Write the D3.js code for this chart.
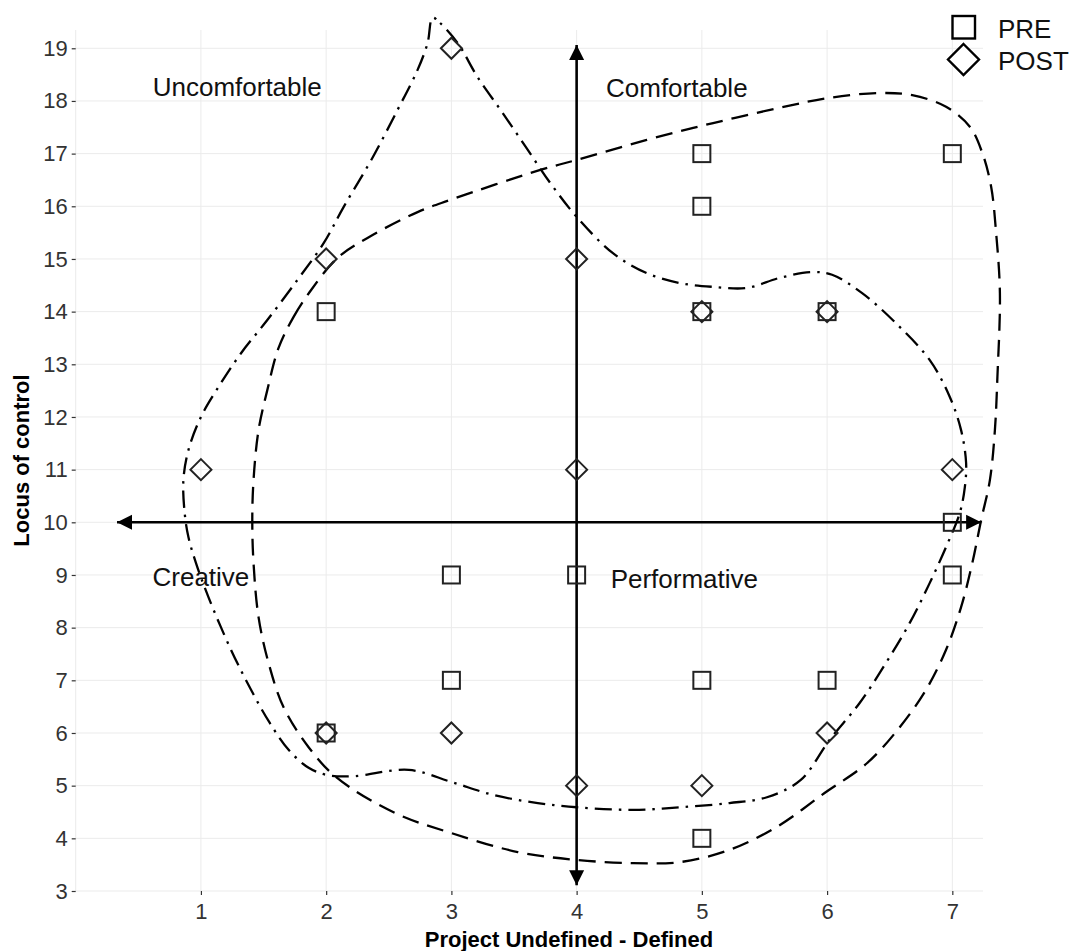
<!DOCTYPE html>
<html><head><meta charset="utf-8">
<script src="https://cdn.jsdelivr.net/npm/d3@7"></script>
<style>body{margin:0;background:#fff}svg{display:block}</style>
</head><body>
<svg id="chart" width="1075" height="951"></svg>
<script>
// ---- data ----
const xTicks = [1, 2, 3, 4, 5, 6, 7];
const yTicks = [3,4,5,6,7,8,9,10,11,12,13,14,15,16,17,18,19];
const preX = [2, 3, 3, 2, 4, 5, 5, 5, 6, 7, 7, 7, 5, 6, 5];
const preY = [14, 9, 7, 6, 9, 17, 16, 14, 14, 17, 10, 9, 7, 7, 4];
const postX = [1, 2, 2, 3, 3, 4, 4, 4, 5, 5, 6, 6, 7];
const postY = [11, 15, 6, 19, 6, 15, 11, 5, 14, 5, 14, 6, 11];
// hand-traced enclosing curves (data units)
const preHullX = [1.62,1.74,1.88,2.09,2.33,2.73,2.99,3.71,4.00,4.56,5.09,5.62,6.02,6.42,6.68,6.95,7.14,7.24,7.31,7.35,7.38,7.36,7.34,7.30,7.23,7.16,7.07,6.95,6.79,6.58,6.32,5.98,5.60,5.22,4.83,4.45,4.00,3.53,3.00,2.55,2.08,1.86,1.66,1.54,1.46,1.42,1.41,1.42,1.46,1.53];
const preHullY = [13.31,13.90,14.41,15.02,15.40,15.89,16.12,16.69,16.88,17.26,17.58,17.87,18.06,18.15,18.11,17.89,17.51,17.01,16.37,15.49,14.35,12.76,11.75,10.80,10.04,9.23,8.39,7.58,6.82,6.11,5.43,4.86,4.22,3.78,3.55,3.53,3.59,3.74,4.10,4.48,5.16,5.73,6.49,7.33,8.20,9.23,10.04,10.80,11.75,12.51];
const postHullX = [2.85,2.91,3.05,3.21,3.41,3.61,3.79,4.00,4.29,4.56,4.83,5.09,5.36,5.62,5.88,6.04,6.28,6.55,6.82,6.98,7.07,7.11,7.10,7.06,6.95,6.82,6.66,6.47,6.26,6.02,5.79,5.52,5.22,4.83,4.45,4.00,3.69,3.34,3.00,2.66,2.22,2.01,1.86,1.70,1.55,1.40,1.24,1.06,0.96,0.90,0.87,0.86,0.90,1.00,1.14,1.32,1.53,1.77,1.98,2.14,2.36,2.57,2.73,2.81];
const postHullY = [19.58,19.48,19.10,18.45,17.77,17.07,16.44,15.80,15.11,14.73,14.54,14.47,14.45,14.64,14.75,14.70,14.35,13.78,13.08,12.38,11.75,11.13,10.67,10.18,9.53,8.85,8.09,7.33,6.57,5.87,5.11,4.78,4.67,4.59,4.54,4.59,4.67,4.82,5.07,5.30,5.18,5.20,5.34,5.68,6.19,6.82,7.58,8.58,9.23,9.72,10.18,10.80,11.37,12.00,12.57,13.21,13.84,14.60,15.30,15.99,16.88,17.83,18.59,19.10];
const hArrowX = [0.33, 7.23], hArrowY = [10, 10];
const vArrowX = [4, 4], vArrowY = [3.11, 19.06];
const quadLabels = ["Uncomfortable", "Comfortable", "Creative", "Performative"];
const quadX = [1.29, 4.80, 1.0, 4.86];
const quadY = [18.27, 18.25, 8.97, 8.92];
const legendLabels = ["PRE", "POST"];
const xTitle = "Project Undefined - Defined";
const yTitle = "Locus of control";

// ---- layout ----
const FONT = "'Liberation Sans', Arial, Helvetica, sans-serif";
const svg = d3.select("#chart");
const pLeft = 75.7, pRight = 983, pTop = 30, pBottom = 891;
const x = d3.scaleLinear().domain([0, 7.245]).range([pLeft, pRight]);
const y = d3.scaleLinear().domain([3, 19.347]).range([pBottom, pTop]);

// grid
const grid = svg.append("g").attr("stroke", "#ebebeb").attr("stroke-width", 1);
grid.selectAll("line.h").data(yTicks).join("line").attr("class", "h")
  .attr("x1", pLeft).attr("x2", pRight).attr("y1", d => y(d)).attr("y2", d => y(d));
grid.selectAll("line.v").data([0].concat(xTicks)).join("line").attr("class", "v")
  .attr("y1", pTop).attr("y2", pBottom).attr("x1", d => x(d)).attr("x2", d => x(d));

// axes
const xAxis = svg.append("g").attr("transform", `translate(0,${pBottom})`)
  .call(d3.axisBottom(x).tickValues(xTicks).tickFormat(d3.format("d")).tickSize(4).tickPadding(8));
const yAxis = svg.append("g").attr("transform", `translate(${pLeft},0)`)
  .call(d3.axisLeft(y).tickValues(yTicks).tickFormat(d3.format("d")).tickSize(4).tickPadding(4));
[xAxis, yAxis].forEach(a => {
  a.select(".domain").remove();
  a.selectAll(".tick line").attr("stroke", "#333").attr("stroke-width", 1.2);
  a.selectAll(".tick text").attr("fill", "#333").style("font-family", FONT).style("font-size", "22px");
});

// enclosing curves
const line = d3.line().x(d => x(d[0])).y(d => y(d[1])).curve(d3.curveCatmullRomClosed.alpha(0.5));
svg.append("path").datum(preHullX.map((v, i) => [v, preHullY[i]]))
  .attr("d", line).attr("fill", "none").attr("stroke", "#000").attr("stroke-width", 2.3)
  .attr("stroke-dasharray", "17,9");
svg.append("path").datum(postHullX.map((v, i) => [v, postHullY[i]]))
  .attr("d", line).attr("fill", "none").attr("stroke", "#000").attr("stroke-width", 2.3)
  .attr("stroke-dasharray", "2.5,7,17,7");

// arrows
function arrow(x0, y0, x1, y1) {
  const px0 = x(x0), py0 = y(y0), px1 = x(x1), py1 = y(y1);
  const g = svg.append("g");
  const L = 15, W = 7.5;
  [[px0, py0, px1, py1], [px1, py1, px0, py0]].forEach(([ax, ay, bx, by]) => {
    const dx = ax - bx, dy = ay - by, len = Math.hypot(dx, dy);
    const ux = dx / len, uy = dy / len;
    const baseX = ax - ux * L, baseY = ay - uy * L;
    g.append("path").attr("d", `M${ax},${ay}L${baseX - uy * W},${baseY + ux * W}L${baseX + uy * W},${baseY - ux * W}Z`)
      .attr("fill", "#000");
  });
  g.append("line").attr("x1", px0).attr("y1", py0).attr("x2", px1).attr("y2", py1)
    .attr("stroke", "#000").attr("stroke-width", 2.6);
}
arrow(hArrowX[0], hArrowY[0], hArrowX[1], hArrowY[1]);
arrow(vArrowX[0], vArrowY[0], vArrowX[1], vArrowY[1]);

// points
const sq = 17, dm = 10.5;
svg.append("g").selectAll("rect").data(preX.map((v, i) => [v, preY[i]])).join("rect")
  .attr("x", d => x(d[0]) - sq / 2).attr("y", d => y(d[1]) - sq / 2)
  .attr("width", sq).attr("height", sq)
  .attr("fill", "none").attr("stroke", "#222").attr("stroke-width", 2);
const diamond = (cx, cy, r) => `M${cx},${cy - r}L${cx + r},${cy}L${cx},${cy + r}L${cx - r},${cy}Z`;
svg.append("g").selectAll("path").data(postX.map((v, i) => [v, postY[i]])).join("path")
  .attr("d", d => diamond(x(d[0]), y(d[1]), dm))
  .attr("fill", "none").attr("stroke", "#222").attr("stroke-width", 2);

// quadrant labels
svg.append("g").selectAll("text").data(quadLabels).join("text")
  .attr("x", (d, i) => x(quadX[i])).attr("y", (d, i) => y(quadY[i]))
  .attr("text-anchor", "middle").attr("dominant-baseline", "central")
  .style("font-family", FONT).style("font-size", "26px").attr("fill", "#111")
  .text(d => d);

// legend
const leg = svg.append("g");
leg.append("rect").attr("x", 952.5).attr("y", 16).attr("width", 22.5).attr("height", 22.5)
  .attr("fill", "#fff").attr("stroke", "#000").attr("stroke-width", 2.4);
leg.append("path").attr("d", diamond(963.5, 59.5, 15.5))
  .attr("fill", "#fff").attr("stroke", "#000").attr("stroke-width", 2.4);
leg.selectAll("text").data(legendLabels).join("text")
  .attr("x", 998).attr("y", (d, i) => 38 + i * 32)
  .style("font-family", FONT).style("font-size", "26px").attr("fill", "#111")
  .text(d => d);

// axis titles
svg.append("text").attr("x", 569).attr("y", 947)
  .attr("text-anchor", "middle").style("font-family", FONT).style("font-size", "22px")
  .style("font-weight", "bold").attr("fill", "#000").text(xTitle);
svg.append("text").attr("transform", `translate(29,${(pTop + pBottom) / 2}) rotate(-90)`)
  .attr("text-anchor", "middle").style("font-family", FONT).style("font-size", "22px")
  .style("font-weight", "bold").attr("fill", "#000").text(yTitle);
</script>
</body></html>
